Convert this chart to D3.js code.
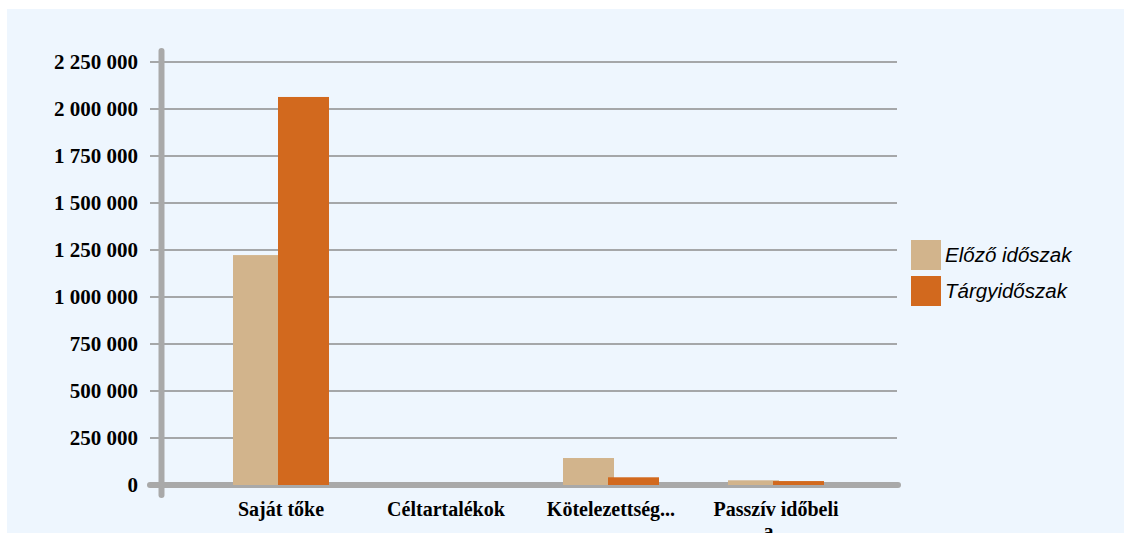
<!DOCTYPE html>
<html>
<head>
<meta charset="utf-8">
<script src="https://cdn.jsdelivr.net/npm/d3@7"></script>
<style>
  body { margin: 0; background: #fff; }
</style>
</head>
<body>
<div id="Chart"></div>
<script>
var w = 1130;
var h = 533;

// data
var categories = ["Saját tőke", "Céltartalékok", "Kötelezettség...", "Passzív időbeli"];
var series = ["Előző időszak", "Tárgyidőszak"];
var elozo = [1223000, 0, 143500, 25000];
var targy = [2064000, 0, 41000, 21000];
var yTicks = [0, 250000, 500000, 750000, 1000000, 1250000, 1500000, 1750000, 2000000, 2250000];
var colors = ["#d2b48c", "#d2691e"];

var svg = d3.select("#Chart").append("svg")
    .attr("width", w)
    .attr("height", h)

// light panel behind everything
svg.append("rect")
    .attr("x", 7).attr("y", 9)
    .attr("width", 1117).attr("height", h - 9)
    .attr("fill", "#eef6fe")

var y = d3.scaleLinear()
    .domain([0, 2250000])
    .range([485, 62]);

var x0 = d3.scaleBand()
    .domain(categories)
    .range([198.5, 858.5])
    .padding(0);

var x1 = d3.scaleBand()
    .domain(series)
    .range([-48, 42]);

var fmt = d3.formatLocale({decimal: ",", thousands: " ", grouping: [3], currency: ["", ""]}).format(",d");

// gridlines
svg.append("g").selectAll("line")
    .data(yTicks.filter(d => d > 0))
    .enter()
    .append("line")
    .attr("x1", 150).attr("x2", 897)
    .attr("y1", d => y(d)).attr("y2", d => y(d))
    .attr("stroke", "#8c8c8c")
    .attr("stroke-width", 1.3)

// tick labels
svg.append("g").selectAll("text")
    .data(yTicks)
    .enter()
    .append("text")
    .text(d => fmt(d))
    .attr("x", 138)
    .attr("y", d => y(d) + 7)
    .attr("text-anchor", "end")
    .style("font-family", "'Liberation Serif', 'Times New Roman', serif")
    .style("font-weight", "bold")
    .style("font-size", "21px")

// baseline
svg.append("line")
    .attr("x1", 150).attr("x2", 898)
    .attr("y1", y(0)).attr("y2", y(0))
    .attr("stroke", "#a9a9a9")
    .attr("stroke-width", 6)
    .attr("stroke-linecap", "round")

// bars
var rows = categories.map((c, i) => ({cat: c, vals: [elozo[i], targy[i]]}));
var groups = svg.append("g").selectAll("g")
    .data(rows)
    .enter()
    .append("g")
    .attr("transform", d => "translate(" + (x0(d.cat) + x0.bandwidth() / 2) + ",0)");

groups.selectAll("rect")
    .data(d => d.vals.map((v, j) => ({s: series[j], v: v, j: j})))
    .enter()
    .append("rect")
    .attr("x", d => x1(d.s))
    .attr("width", x1.bandwidth() + 6)
    .attr("y", d => y(d.v))
    .attr("height", d => y(0) - y(d.v))
    .attr("fill", d => colors[d.j])

// y axis line
svg.append("line")
    .attr("x1", 161.5).attr("x2", 161.5)
    .attr("y1", 51).attr("y2", 495)
    .attr("stroke", "#a9a9a9")
    .attr("stroke-width", 6)
    .attr("stroke-linecap", "round")

// category labels
svg.append("g").selectAll("text")
    .data(categories)
    .enter()
    .append("text")
    .text(d => d)
    .attr("x", d => x0(d) + x0.bandwidth() / 2)
    .attr("y", 516)
    .attr("text-anchor", "middle")
    .style("font-family", "'Liberation Serif', 'Times New Roman', serif")
    .style("font-weight", "bold")
    .style("font-size", "20px")

// wrapped second line of the last label, mostly cut off by the frame
svg.append("text")
    .text("a...")
    .attr("x", x0(categories[3]) + x0.bandwidth() / 2)
    .attr("y", 538)
    .attr("text-anchor", "middle")
    .style("font-family", "'Liberation Serif', 'Times New Roman', serif")
    .style("font-weight", "bold")
    .style("font-size", "20px")

// legend
var leg = svg.append("g").selectAll("g")
    .data(series)
    .enter()
    .append("g")
    .attr("transform", (d, i) => "translate(911," + (240 + i * 36) + ")");

leg.append("rect")
    .attr("width", 30).attr("height", 30)
    .attr("fill", (d, i) => colors[i])

leg.append("text")
    .text(d => d)
    .attr("x", 34)
    .attr("y", 22)
    .style("font-family", "'Liberation Sans', Arial, sans-serif")
    .style("font-style", "italic")
    .style("font-size", "20.5px")
</script>
</body>
</html>
